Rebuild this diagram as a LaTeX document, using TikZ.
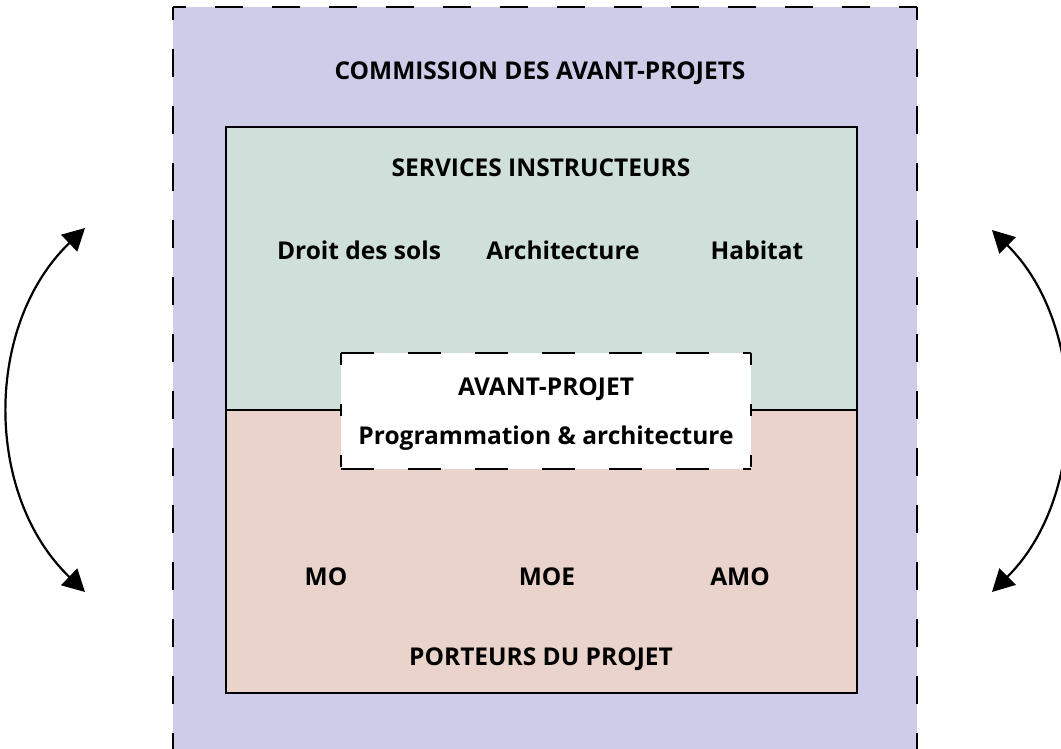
\documentclass[tikz,border=0pt]{standalone}
\usepackage{fontspec}
\setmainfont{Open Sans}
\usetikzlibrary{arrows.meta}

\definecolor{lavande}{RGB}{205,205,233}
\definecolor{vertgris}{RGB}{207,223,217}
\definecolor{rosegris}{RGB}{233,211,203}

\begin{document}
\begin{tikzpicture}[x=1pt, y=-1pt,
    txt/.style={font=\bfseries\fontsize{24.5}{28}\selectfont, inner sep=0pt, anchor=base},
    tiret/.style={black, line width=2.8pt, dash pattern=on 28pt off 29pt, dash phase=15pt},
    fleche/.style={black, line width=2.2pt, {Triangle[length=22pt,width=23pt]}-{Triangle[length=22pt,width=23pt]}}] %commission
    \useasboundingbox (0,0) rectangle (1061,749);

    \fill[lavande] (173,7) rectangle (917,749);
    \draw[tiret] (173,7) -- (173,749);
    \draw[tiret] (173,7) -- (917,7);
    \draw[tiret] (917,7) -- (917,749);

    \filldraw[fill=vertgris, draw=black, line width=2.2pt] (226,127) rectangle (857,410);
    \filldraw[fill=rosegris, draw=black, line width=2.2pt] (226,410) rectangle (857,693);

    \fill[white] (341,353) rectangle (751,469);
    \draw[black, line width=2.6pt, dash pattern=on 33pt off 34pt] (341,353) -- (751,353);
    \draw[black, line width=2.6pt, dash pattern=on 33pt off 34pt] (341,469) -- (751,469);
    \draw[black, line width=2.6pt, dash pattern=on 12pt off 39pt] (341,353) -- (341,469);
    \draw[black, line width=2.6pt, dash pattern=on 12pt off 39pt] (751,353) -- (751,469);

    \node[txt] (commission) at (540,80) {COMMISSION DES AVANT-PROJETS};
    \node[txt] (services) at (541,177) {SERVICES INSTRUCTEURS};
    \node[txt] (droit) at (359,259) {Droit des sols};
    \node[txt] (archi) at (563,259) {Architecture};
    \node[txt] (habitat) at (757,259) {Habitat};
    \node[txt] (avant) at (546,395) {AVANT-PROJET};
    \node[txt] (progr) at (546,444) {Programmation \& architecture};
    \node[txt] (mo) at (326,585) {MO};
    \node[txt] (moe) at (547,585) {MOE};
    \node[txt] (amo) at (740,585) {AMO};
    \node[txt] (porteurs) at (541,665) {PORTEURS DU PROJET};

    \coordinate (gh) at (85,228);
    \coordinate (gb) at (85,592);
    \coordinate (dh) at (992,230);
    \coordinate (db) at (992,592);
    \draw[fleche] (gb) .. controls (-16,495) and (-16,325) .. (gh);
    \draw[fleche] (db) .. controls (1088,497) and (1088,325) .. (dh);
\end{tikzpicture}
\end{document}
